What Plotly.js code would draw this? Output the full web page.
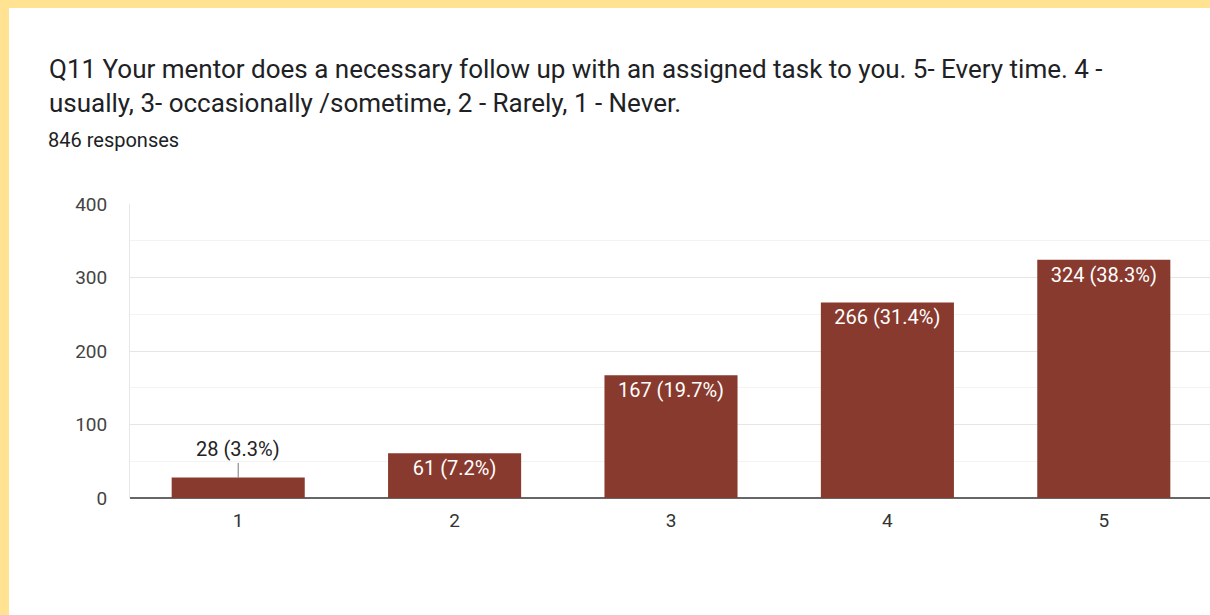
<!DOCTYPE html>
<html>
<head>
<meta charset="utf-8">
<script src="https://cdn.plot.ly/plotly-3.0.1.min.js"></script>
<style>
  html, body { margin: 0; padding: 0; background: #FFE393; width: 1210px; height: 615px; overflow: hidden; }
  #wrap { position: absolute; left: 9px; top: 8px; width: 1201px; height: 607px; overflow: hidden; background: #fff; }
  #chart { position: absolute; left: 0; top: 0; width: 1203px; height: 607px; }
</style>
</head>
<body>
<div id="wrap"><div id="chart"></div></div>
<script>
const categories = [1, 2, 3, 4, 5];
const counts = [28, 61, 167, 266, 324];
const percents = ['3.3%', '7.2%', '19.7%', '31.4%', '38.3%'];
const yTicks = [0, 100, 200, 300, 400];
const titleText = 'Q11 Your mentor does a necessary follow up with an assigned task to you. 5- Every time. 4 -<br>usually, 3- occasionally /sometime, 2 - Rarely, 1 - Never.';
const subtitleText = '846 responses';

const barColor = '#883A2E';
const FONT = 'Roboto, Arial, sans-serif';
const positions = counts.map((c, i) => i === 0 ? 'none' : 'inside');

// plot-area geometry (div pixels)
const M = { l: 120.5, r: 0, t: 195.5, b: 117 };
const W = 1203, H = 607;
const plotW = W - M.l - M.r, plotH = H - M.t - M.b;
const px2paperX = px => (px - M.l) / plotW;
const px2paperY = py => (M.t + plotH - py) / plotH;

const trace = {
  type: 'bar',
  x: categories,
  y: counts,
  customdata: percents,
  texttemplate: '%{y} (%{customdata})',
  textposition: positions,
  insidetextanchor: 'end',
  textangle: 0,
  insidetextfont: { family: FONT, size: 20, color: '#ffffff' },
  marker: { color: barColor, line: { width: 0 } },
  hoverinfo: 'none',
  cliponaxis: false
};

const layout = {
  width: W,
  height: H,
  margin: M,
  paper_bgcolor: '#ffffff',
  plot_bgcolor: '#ffffff',
  bargap: 0.385,
  showlegend: false,
  font: { family: FONT, color: '#222222' },
  title: {
    text: titleText,
    font: { family: FONT, size: 26, color: '#202124' },
    xref: 'container', yref: 'container',
    x: 40 / W, xanchor: 'left',
    y: 1 - 70 / H, yanchor: 'top'
  },
  xaxis: {
    range: [0.5, 5.5],
    tickvals: categories,
    ticktext: categories.map(String),
    showgrid: false,
    zeroline: false,
    showline: false,
    ticks: 'outside', ticklen: 5, tickcolor: 'rgba(0,0,0,0)',
    tickfont: { family: FONT, size: 19, color: '#333333' },
    fixedrange: true
  },
  yaxis: {
    range: [0, 400],
    tickvals: yTicks,
    ticktext: yTicks.map(String),
    showgrid: true,
    gridcolor: '#e6e6e6',
    gridwidth: 1,
    minor: { dtick: 50, tick0: 0, showgrid: true, gridcolor: '#f3f3f3', gridwidth: 1 },
    zeroline: true,
    zerolinecolor: '#666666',
    zerolinewidth: 2,
    showline: true,
    linecolor: '#e6e6e6',
    linewidth: 1,
    ticks: 'outside', ticklen: 18, tickcolor: 'rgba(0,0,0,0)',
    tickfont: { family: FONT, size: 19, color: '#444444' },
    fixedrange: true
  },
  annotations: [
    {
      xref: 'paper', yref: 'paper',
      x: px2paperX(36), xanchor: 'left',
      y: px2paperY(131), yanchor: 'middle',
      text: subtitleText,
      showarrow: false,
      font: { family: FONT, size: 20, color: '#202124' }
    },
    {
      x: categories[0], y: counts[0],
      xref: 'x', yref: 'y',
      text: counts[0] + ' (' + percents[0] + ')',
      showarrow: true,
      arrowhead: 0,
      arrowwidth: 1,
      arrowcolor: '#777777',
      ax: 0, ay: -28,
      font: { family: FONT, size: 20, color: '#222222' }
    }
  ]
};

Plotly.newPlot('chart', [trace], layout, { displayModeBar: false, staticPlot: true });
</script>
</body>
</html>
